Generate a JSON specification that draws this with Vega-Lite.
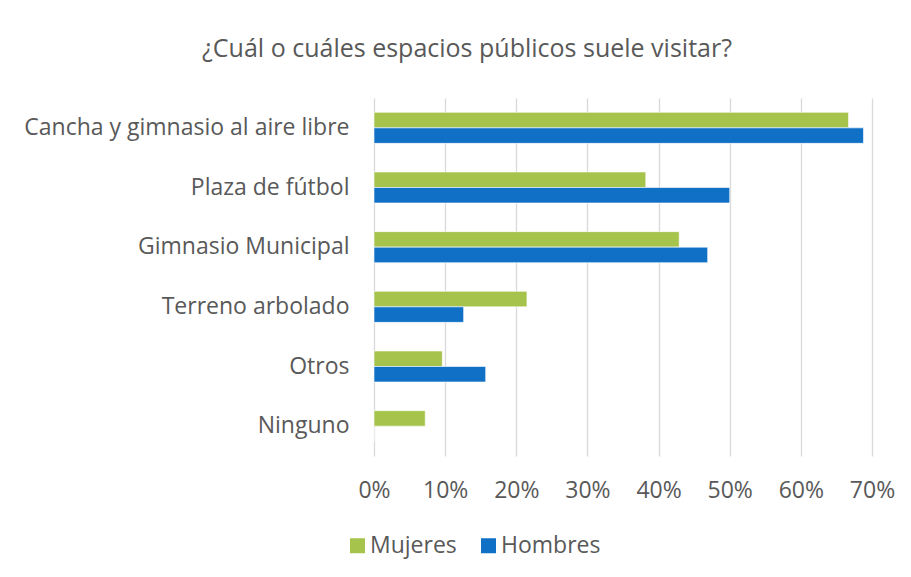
{
  "$schema": "https://vega.github.io/schema/vega-lite/v6.json",
  "autosize": "none",
  "width": 498,
  "height": 358,
  "padding": {"left": 374, "top": 98, "right": 39, "bottom": 121},
  "background": "white",
  "title": {
    "text": "¿Cuál o cuáles espacios públicos suele visitar?",
    "anchor": "middle",
    "dx": -156,
    "offset": 36,
    "font": "Open Sans",
    "fontSize": 25,
    "fontWeight": "normal",
    "color": "#595959"
  },
  "data": {
    "values": [
      {"espacio": "Cancha y gimnasio al aire libre", "sexo": "Mujeres", "valor": 0.667},
      {"espacio": "Cancha y gimnasio al aire libre", "sexo": "Hombres", "valor": 0.688},
      {"espacio": "Plaza de fútbol", "sexo": "Mujeres", "valor": 0.382},
      {"espacio": "Plaza de fútbol", "sexo": "Hombres", "valor": 0.50},
      {"espacio": "Gimnasio Municipal", "sexo": "Mujeres", "valor": 0.429},
      {"espacio": "Gimnasio Municipal", "sexo": "Hombres", "valor": 0.469},
      {"espacio": "Terreno arbolado", "sexo": "Mujeres", "valor": 0.215},
      {"espacio": "Terreno arbolado", "sexo": "Hombres", "valor": 0.126},
      {"espacio": "Otros", "sexo": "Mujeres", "valor": 0.096},
      {"espacio": "Otros", "sexo": "Hombres", "valor": 0.157},
      {"espacio": "Ninguno", "sexo": "Mujeres", "valor": 0.072},
      {"espacio": "Ninguno", "sexo": "Hombres", "valor": 0}
    ]
  },
  "mark": {"type": "bar", "stroke": "white", "strokeWidth": 0.6},
  "encoding": {
    "y": {
      "field": "espacio",
      "type": "nominal",
      "sort": null,
      "title": null,
      "scale": {"paddingInner": 0.48, "paddingOuter": 0.24},
      "axis": {
        "domain": false,
        "ticks": false,
        "labelPadding": 25,
        "labelLimit": 0,
        "labelFont": "Open Sans",
        "labelFontSize": 23,
        "labelColor": "#595959"
      }
    },
    "yOffset": {"field": "sexo", "type": "nominal", "sort": ["Mujeres", "Hombres"]},
    "x": {
      "field": "valor",
      "type": "quantitative",
      "title": null,
      "scale": {"domain": [0, 0.7]},
      "axis": {
        "format": ".0%",
        "values": [0, 0.1, 0.2, 0.3, 0.4, 0.5, 0.6, 0.7],
        "domain": false,
        "ticks": false,
        "grid": true,
        "gridColor": "#D9D9D9",
        "gridWidth": 1.3,
        "labelFlush": false,
        "labelOverlap": false,
        "labelPadding": 23,
        "labelFont": "Open Sans",
        "labelFontSize": 23,
        "labelColor": "#595959"
      }
    },
    "color": {
      "field": "sexo",
      "type": "nominal",
      "sort": ["Mujeres", "Hombres"],
      "scale": {"domain": ["Mujeres", "Hombres"], "range": ["#A6C34C", "#0F70C6"]},
      "legend": {
        "title": null,
        "orient": "none",
        "direction": "horizontal",
        "legendX": -28,
        "legendY": 436,
        "symbolType": "square",
        "symbolSize": 225,
        "symbolStrokeWidth": 0,
        "labelFont": "Open Sans",
        "labelFontSize": 23,
        "labelColor": "#595959",
        "labelOffset": 1,
        "columnPadding": 20
      }
    }
  },
  "config": {"view": {"stroke": null}}
}
